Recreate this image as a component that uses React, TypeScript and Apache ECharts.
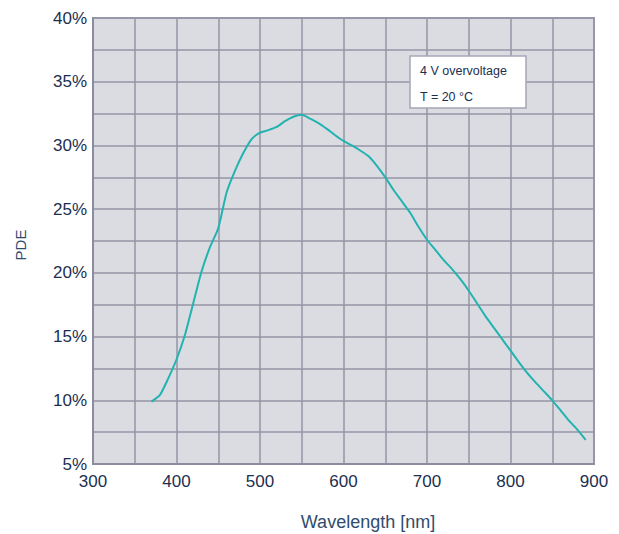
import React, { useEffect, useRef } from "react";
import * as echarts from "echarts";

const wavelengths = [370, 380, 390, 400, 410, 420, 430, 440, 450, 460, 470, 480, 490, 500, 510, 520, 530, 540, 550, 560, 570, 580, 590, 600, 610, 620, 630, 640, 650, 660, 670, 680, 690, 700, 710, 720, 730, 740, 750, 760, 770, 780, 790, 800, 810, 820, 830, 840, 850, 860, 870, 880, 890];
const pde = [9.9, 10.4, 11.7, 13.2, 15.1, 17.6, 20.1, 22.0, 23.5, 26.3, 28.0, 29.4, 30.5, 31.0, 31.2, 31.45, 31.9, 32.25, 32.4, 32.1, 31.75, 31.3, 30.8, 30.35, 30.0, 29.6, 29.15, 28.4, 27.5, 26.5, 25.6, 24.7, 23.6, 22.6, 21.8, 21.0, 20.3, 19.5, 18.6, 17.6, 16.6, 15.7, 14.8, 13.9, 13.0, 12.15, 11.4, 10.7, 10.0, 9.2, 8.4, 7.7, 6.9];
const annotationLines = ["4 V overvoltage", "T = 20 °C"];
const xAxisName = "Wavelength [nm]";
const yAxisName = "PDE";

const FONT = "'Liberation Sans', Arial, sans-serif";
const TEXT = "#1b2f50";
const NAME = "#304d6e";
const GRIDLINE = "#9494a6";

export default function App() {
  const ref = useRef<HTMLDivElement>(null);
  useEffect(() => {
    document.body.style.margin = "0";
    const chart = echarts.init(ref.current!, null, { renderer: "svg" });
    chart.setOption({
      animation: false,
      grid: {
        left: 93,
        right: 25,
        top: 18,
        bottom: 70,
        show: true,
        backgroundColor: "#dbdce1",
        borderColor: "#a0a0b2",
        borderWidth: 2,
      },
      xAxis: {
        type: "value",
        min: 300,
        max: 900,
        interval: 50,
        axisLine: { show: true, lineStyle: { color: "#8c8ca0", width: 2 } },
        axisTick: { show: false },
        axisLabel: {
          margin: 9,
          color: TEXT,
          fontSize: 17,
          fontFamily: FONT,
          formatter: (v: number) => (v % 100 === 0 ? String(v) : ""),
        },
        splitLine: { show: true, lineStyle: { color: GRIDLINE, width: 1.5 } },
      },
      yAxis: {
        type: "value",
        min: 5,
        max: 40,
        interval: 2.5,
        axisLine: { show: true, lineStyle: { color: "#8c8ca0", width: 2 } },
        axisTick: { show: false },
        axisLabel: {
          margin: 6,
          color: TEXT,
          fontSize: 17,
          fontFamily: FONT,
          formatter: (v: number) => (v % 5 === 0 ? v + "%" : ""),
        },
        splitLine: { show: true, lineStyle: { color: GRIDLINE, width: 1.5 } },
      },
      series: [
        {
          type: "line",
          data: wavelengths.map((w, i) => [w, pde[i]]),
          showSymbol: false,
          smooth: 0.2,
          lineStyle: { color: "#22b3b1", width: 2 },
        },
      ],
      graphic: [
        {
          type: "rect",
          shape: { x: 410, y: 56, width: 116, height: 52 },
          style: { fill: "#ffffff", stroke: "#a6a6b6", lineWidth: 1.5 },
          z: 100,
        },
        ...annotationLines.map((t, i) => ({
          type: "text",
          x: 420,
          y: 71 + i * 26,
          z: 101,
          style: {
            text: t,
            fill: TEXT,
            font: `12.5px ${FONT}`,
            verticalAlign: "middle",
          },
        })),
        {
          type: "text",
          x: 368,
          y: 522,
          style: {
            text: xAxisName,
            fill: NAME,
            font: `18px ${FONT}`,
            align: "center",
            verticalAlign: "middle",
          },
        },
        {
          type: "text",
          x: 20,
          y: 245,
          rotation: Math.PI / 2,
          style: {
            text: yAxisName,
            fill: NAME,
            font: `15px ${FONT}`,
            align: "center",
            verticalAlign: "middle",
          },
        },
      ],
    });
    return () => chart.dispose();
  }, []);
  return <div ref={ref} style={{ width: 619, height: 534 }} />;
}
